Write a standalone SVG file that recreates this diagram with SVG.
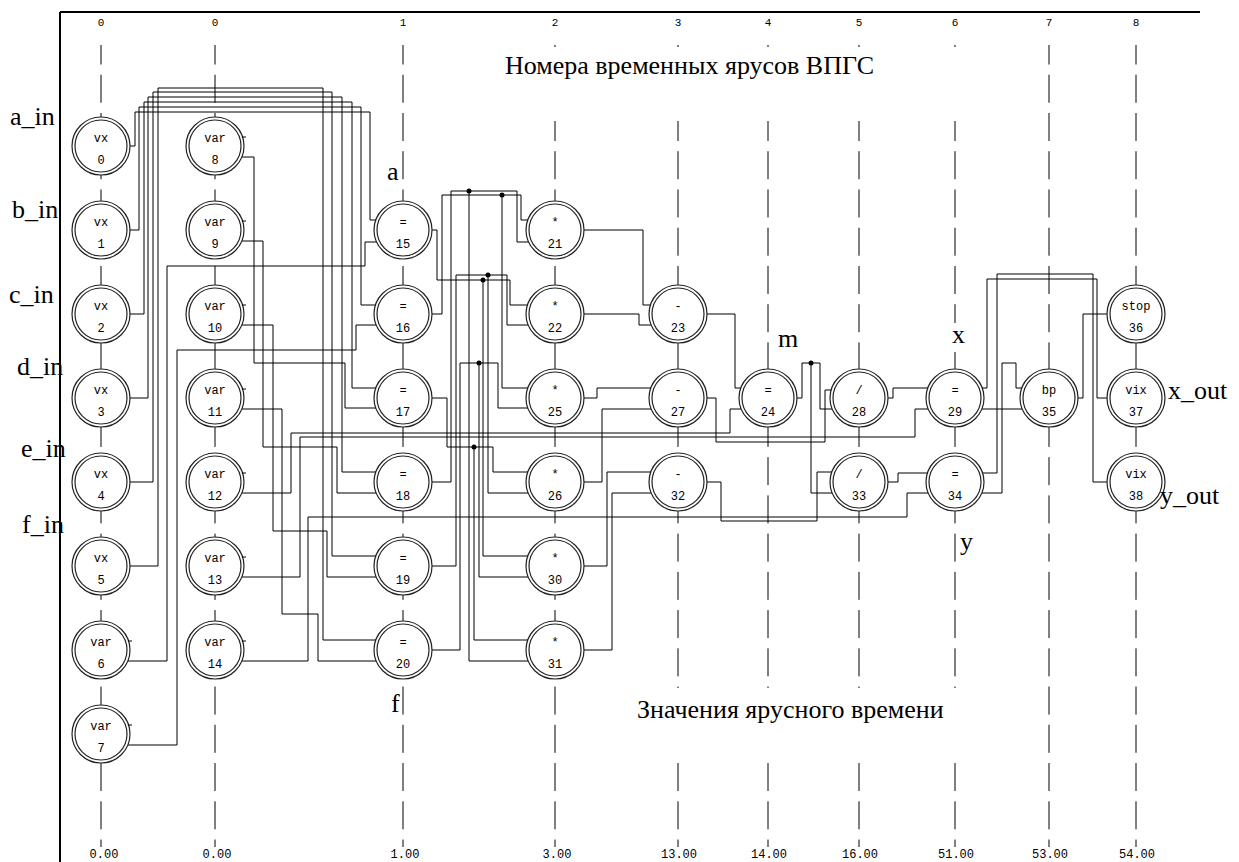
<svg xmlns="http://www.w3.org/2000/svg" width="1239" height="862" viewBox="0 0 1239 862">
<style>
.frame{stroke:#000;stroke-width:2;fill:none}
.tier{stroke:#000;stroke-width:1;stroke-dasharray:28 10.24;stroke-dashoffset:8.5;fill:none}
.w{stroke:#000;stroke-width:1;fill:none}
.o{fill:#fff;stroke:#222;stroke-width:1.2}
.i{fill:none;stroke:#222;stroke-width:1.2}
.t{font-family:"Liberation Mono",monospace;font-size:12px;text-anchor:middle;fill:#000}
.s{font-family:"Liberation Mono",monospace;font-size:11px;text-anchor:middle;fill:#000}
.s2{font-family:"Liberation Mono",monospace;font-size:12px;text-anchor:middle;fill:#000}
.b{font-family:"Liberation Serif","Times New Roman",serif;font-size:26px;fill:#000}
.dot{fill:#000}
</style>
<rect width="1239" height="862" fill="#fff"/>
<g id="frame">
<path class="frame" d="M60 12H1200M60 12V862"/>
</g>
<g id="tiers">
<path class="tier" d="M101 45V847M215 45V847M403 45V847M555 45V847M678 45V847M768 45V847M859 45V847M955 45V847M1049 45V847M1136 45V847"/>
<rect x="530" y="47" width="440" height="74" fill="#fff"/>
<rect x="600" y="688" width="370" height="74" fill="#fff"/>
<rect x="946" y="323" width="24" height="29" fill="#fff"/>
<g class="s">
<text x="101" y="26">0</text><text x="215" y="26">0</text><text x="403" y="26">1</text><text x="555" y="26">2</text><text x="678" y="26">3</text><text x="768" y="26">4</text><text x="859" y="26">5</text><text x="955" y="26">6</text><text x="1049" y="26">7</text><text x="1136" y="26">8</text>
</g>
<g class="s2">
<text x="104" y="858">0.00</text><text x="217" y="858">0.00</text><text x="405" y="858">1.00</text><text x="557" y="858">3.00</text><text x="679" y="858">13.00</text><text x="769" y="858">14.00</text><text x="860" y="858">16.00</text><text x="956" y="858">51.00</text><text x="1050" y="858">53.00</text><text x="1137" y="858">54.00</text>
</g>
</g>
<g id="connectors">
<path class="w" d="M130 146H135V112H370V220H385"/>
<path class="w" d="M130 230H139V107H361V305H385"/>
<path class="w" d="M130 314H144V102H352V388H385"/>
<path class="w" d="M130 398H148V97H342V472H385"/>
<path class="w" d="M130 482H153V92H332V556H385"/>
<path class="w" d="M130 566H158V88H323V640H385"/>
<path class="w" d="M128 661H167V266H365V242H385"/>
<path class="w" d="M128 745H177V350H356V325H385"/>
<path class="w" d="M242 157H254V363H345V408H385"/>
<path class="w" d="M242 241H263V447H337V493H385"/>
<path class="w" d="M242 325H273V531H327V577H385"/>
<path class="w" d="M242 409H282V614H318V661H385"/>
<path class="w" d="M242 493H291V433H730V409H750"/>
<path class="w" d="M242 577H300V437H915V409H935"/>
<path class="w" d="M242 661H308V517H907V493H935"/>
<path class="w" d="M420 230H437V280H510V305H540M483 280V556H540"/>
<path class="w" d="M420 314H442V195H521V220H540M502 195V388H540"/>
<path class="w" d="M420 398H447V447H493V472H540M474 447V640H540"/>
<path class="w" d="M420 482H451V191H517V242H540M469 191V661H540"/>
<path class="w" d="M420 566H456V275H507V325H540M488 275V493H540"/>
<path class="w" d="M420 650H460V363H498V408H540M479 363V577H540"/>
<path class="w" d="M570 230H643V305H660"/>
<path class="w" d="M570 314H639V325H660"/>
<path class="w" d="M570 398H597V388H660"/>
<path class="w" d="M570 482H602V409H660"/>
<path class="w" d="M570 566H607V472H660"/>
<path class="w" d="M570 650H612V493H660"/>
<path class="w" d="M690 314H735V388H750"/>
<path class="w" d="M690 398H716V442H825V390H845"/>
<path class="w" d="M690 482H721V521H817V472H845"/>
<path class="w" d="M780 398H802V363H820V409H845M811 363V493H845"/>
<path class="w" d="M870 398H893V388H940"/>
<path class="w" d="M870 482H898V473H940"/>
<path class="w" d="M965 388H987V279H1097V398H1120M965 409H1030"/>
<path class="w" d="M965 473H997V274H1093V482H1120M965 493H1002V363H1016V388H1030"/>
<path class="w" d="M1060 398H1083V314H1120"/>
<circle class="dot" cx="483" cy="280" r="2.5"/>
<circle class="dot" cx="502" cy="195" r="2.5"/>
<circle class="dot" cx="474" cy="447" r="2.5"/>
<circle class="dot" cx="469" cy="191" r="2.5"/>
<circle class="dot" cx="488" cy="275" r="2.5"/>
<circle class="dot" cx="479" cy="363" r="2.5"/>
<circle class="dot" cx="811" cy="363" r="2.5"/>
</g>
<g id="n0"><circle class="o" cx="101" cy="146" r="29"/><circle class="i" cx="101" cy="146" r="26"/><text class="t" x="101" y="142">vx</text><text class="t" x="101" y="164">0</text></g>
<g id="n1"><circle class="o" cx="101" cy="230" r="29"/><circle class="i" cx="101" cy="230" r="26"/><text class="t" x="101" y="226">vx</text><text class="t" x="101" y="248">1</text></g>
<g id="n2"><circle class="o" cx="101" cy="314" r="29"/><circle class="i" cx="101" cy="314" r="26"/><text class="t" x="101" y="310">vx</text><text class="t" x="101" y="332">2</text></g>
<g id="n3"><circle class="o" cx="101" cy="398" r="29"/><circle class="i" cx="101" cy="398" r="26"/><text class="t" x="101" y="394">vx</text><text class="t" x="101" y="416">3</text></g>
<g id="n4"><circle class="o" cx="101" cy="482" r="29"/><circle class="i" cx="101" cy="482" r="26"/><text class="t" x="101" y="478">vx</text><text class="t" x="101" y="500">4</text></g>
<g id="n5"><circle class="o" cx="101" cy="566" r="29"/><circle class="i" cx="101" cy="566" r="26"/><text class="t" x="101" y="562">vx</text><text class="t" x="101" y="584">5</text></g>
<g id="n6"><circle class="o" cx="101" cy="650" r="29"/><circle class="i" cx="101" cy="650" r="26"/><path class="w" d="M128 641h4"/><text class="t" x="101" y="646">var</text><text class="t" x="101" y="668">6</text></g>
<g id="n7"><circle class="o" cx="101" cy="734" r="29"/><circle class="i" cx="101" cy="734" r="26"/><path class="w" d="M128 725h4"/><text class="t" x="101" y="730">var</text><text class="t" x="101" y="752">7</text></g>
<g id="n8"><circle class="o" cx="215" cy="146" r="29"/><circle class="i" cx="215" cy="146" r="26"/><path class="w" d="M242 137h4"/><text class="t" x="215" y="142">var</text><text class="t" x="215" y="164">8</text></g>
<g id="n9"><circle class="o" cx="215" cy="230" r="29"/><circle class="i" cx="215" cy="230" r="26"/><path class="w" d="M242 221h4"/><text class="t" x="215" y="226">var</text><text class="t" x="215" y="248">9</text></g>
<g id="n10"><circle class="o" cx="215" cy="314" r="29"/><circle class="i" cx="215" cy="314" r="26"/><path class="w" d="M242 305h4"/><text class="t" x="215" y="310">var</text><text class="t" x="215" y="332">10</text></g>
<g id="n11"><circle class="o" cx="215" cy="398" r="29"/><circle class="i" cx="215" cy="398" r="26"/><path class="w" d="M242 389h4"/><text class="t" x="215" y="394">var</text><text class="t" x="215" y="416">11</text></g>
<g id="n12"><circle class="o" cx="215" cy="482" r="29"/><circle class="i" cx="215" cy="482" r="26"/><path class="w" d="M242 473h4"/><text class="t" x="215" y="478">var</text><text class="t" x="215" y="500">12</text></g>
<g id="n13"><circle class="o" cx="215" cy="566" r="29"/><circle class="i" cx="215" cy="566" r="26"/><path class="w" d="M242 557h4"/><text class="t" x="215" y="562">var</text><text class="t" x="215" y="584">13</text></g>
<g id="n14"><circle class="o" cx="215" cy="650" r="29"/><circle class="i" cx="215" cy="650" r="26"/><path class="w" d="M242 641h4"/><text class="t" x="215" y="646">var</text><text class="t" x="215" y="668">14</text></g>
<g id="n15"><circle class="o" cx="403" cy="230" r="29"/><circle class="i" cx="403" cy="230" r="26"/><text class="t" x="403" y="226">=</text><text class="t" x="403" y="248">15</text></g>
<g id="n16"><circle class="o" cx="403" cy="314" r="29"/><circle class="i" cx="403" cy="314" r="26"/><text class="t" x="403" y="310">=</text><text class="t" x="403" y="332">16</text></g>
<g id="n17"><circle class="o" cx="403" cy="398" r="29"/><circle class="i" cx="403" cy="398" r="26"/><text class="t" x="403" y="394">=</text><text class="t" x="403" y="416">17</text></g>
<g id="n18"><circle class="o" cx="403" cy="482" r="29"/><circle class="i" cx="403" cy="482" r="26"/><text class="t" x="403" y="478">=</text><text class="t" x="403" y="500">18</text></g>
<g id="n19"><circle class="o" cx="403" cy="566" r="29"/><circle class="i" cx="403" cy="566" r="26"/><text class="t" x="403" y="562">=</text><text class="t" x="403" y="584">19</text></g>
<g id="n20"><circle class="o" cx="403" cy="650" r="29"/><circle class="i" cx="403" cy="650" r="26"/><text class="t" x="403" y="646">=</text><text class="t" x="403" y="668">20</text></g>
<g id="n21"><circle class="o" cx="555" cy="230" r="29"/><circle class="i" cx="555" cy="230" r="26"/><text class="t" x="555" y="226">*</text><text class="t" x="555" y="248">21</text></g>
<g id="n22"><circle class="o" cx="555" cy="314" r="29"/><circle class="i" cx="555" cy="314" r="26"/><text class="t" x="555" y="310">*</text><text class="t" x="555" y="332">22</text></g>
<g id="n25"><circle class="o" cx="555" cy="398" r="29"/><circle class="i" cx="555" cy="398" r="26"/><text class="t" x="555" y="394">*</text><text class="t" x="555" y="416">25</text></g>
<g id="n26"><circle class="o" cx="555" cy="482" r="29"/><circle class="i" cx="555" cy="482" r="26"/><text class="t" x="555" y="478">*</text><text class="t" x="555" y="500">26</text></g>
<g id="n30"><circle class="o" cx="555" cy="566" r="29"/><circle class="i" cx="555" cy="566" r="26"/><text class="t" x="555" y="562">*</text><text class="t" x="555" y="584">30</text></g>
<g id="n31"><circle class="o" cx="555" cy="650" r="29"/><circle class="i" cx="555" cy="650" r="26"/><text class="t" x="555" y="646">*</text><text class="t" x="555" y="668">31</text></g>
<g id="n23"><circle class="o" cx="678" cy="314" r="29"/><circle class="i" cx="678" cy="314" r="26"/><text class="t" x="678" y="310">-</text><text class="t" x="678" y="332">23</text></g>
<g id="n27"><circle class="o" cx="678" cy="398" r="29"/><circle class="i" cx="678" cy="398" r="26"/><text class="t" x="678" y="394">-</text><text class="t" x="678" y="416">27</text></g>
<g id="n32"><circle class="o" cx="678" cy="482" r="29"/><circle class="i" cx="678" cy="482" r="26"/><text class="t" x="678" y="478">-</text><text class="t" x="678" y="500">32</text></g>
<g id="n24"><circle class="o" cx="768" cy="398" r="29"/><circle class="i" cx="768" cy="398" r="26"/><text class="t" x="768" y="394">=</text><text class="t" x="768" y="416">24</text></g>
<g id="n28"><circle class="o" cx="859" cy="398" r="29"/><circle class="i" cx="859" cy="398" r="26"/><text class="t" x="859" y="394">/</text><text class="t" x="859" y="416">28</text></g>
<g id="n33"><circle class="o" cx="859" cy="482" r="29"/><circle class="i" cx="859" cy="482" r="26"/><text class="t" x="859" y="478">/</text><text class="t" x="859" y="500">33</text></g>
<g id="n29"><circle class="o" cx="955" cy="398" r="29"/><circle class="i" cx="955" cy="398" r="26"/><text class="t" x="955" y="394">=</text><text class="t" x="955" y="416">29</text></g>
<g id="n34"><circle class="o" cx="955" cy="482" r="29"/><circle class="i" cx="955" cy="482" r="26"/><text class="t" x="955" y="478">=</text><text class="t" x="955" y="500">34</text></g>
<g id="n35"><circle class="o" cx="1049" cy="398" r="29"/><circle class="i" cx="1049" cy="398" r="26"/><text class="t" x="1049" y="394">bp</text><text class="t" x="1049" y="416">35</text></g>
<g id="n36"><circle class="o" cx="1136" cy="314" r="29"/><circle class="i" cx="1136" cy="314" r="26"/><text class="t" x="1136" y="310">stop</text><text class="t" x="1136" y="332">36</text></g>
<g id="n37"><circle class="o" cx="1136" cy="398" r="29"/><circle class="i" cx="1136" cy="398" r="26"/><text class="t" x="1136" y="394">vix</text><text class="t" x="1136" y="416">37</text></g>
<g id="n38"><circle class="o" cx="1136" cy="482" r="29"/><circle class="i" cx="1136" cy="482" r="26"/><text class="t" x="1136" y="478">vix</text><text class="t" x="1136" y="500">38</text></g>
<g id="labels" class="b">
<text x="10" y="125">a_in</text>
<text x="12" y="218">b_in</text>
<text x="9" y="303">c_in</text>
<text x="17" y="375">d_in</text>
<text x="21" y="457">e_in</text>
<text x="22" y="533">f_in</text>
<text x="387" y="180">a</text>
<text x="391" y="712">f</text>
<text x="778" y="347">m</text>
<text x="952" y="343">x</text>
<text x="960" y="550">y</text>
<text x="1168" y="399">x_out</text>
<text x="1160" y="504">y_out</text>
<text x="505" y="74">Номера временных ярусов ВПГС</text>
<text x="637" y="718">Значения ярусного времени</text>
</g>
</svg>
